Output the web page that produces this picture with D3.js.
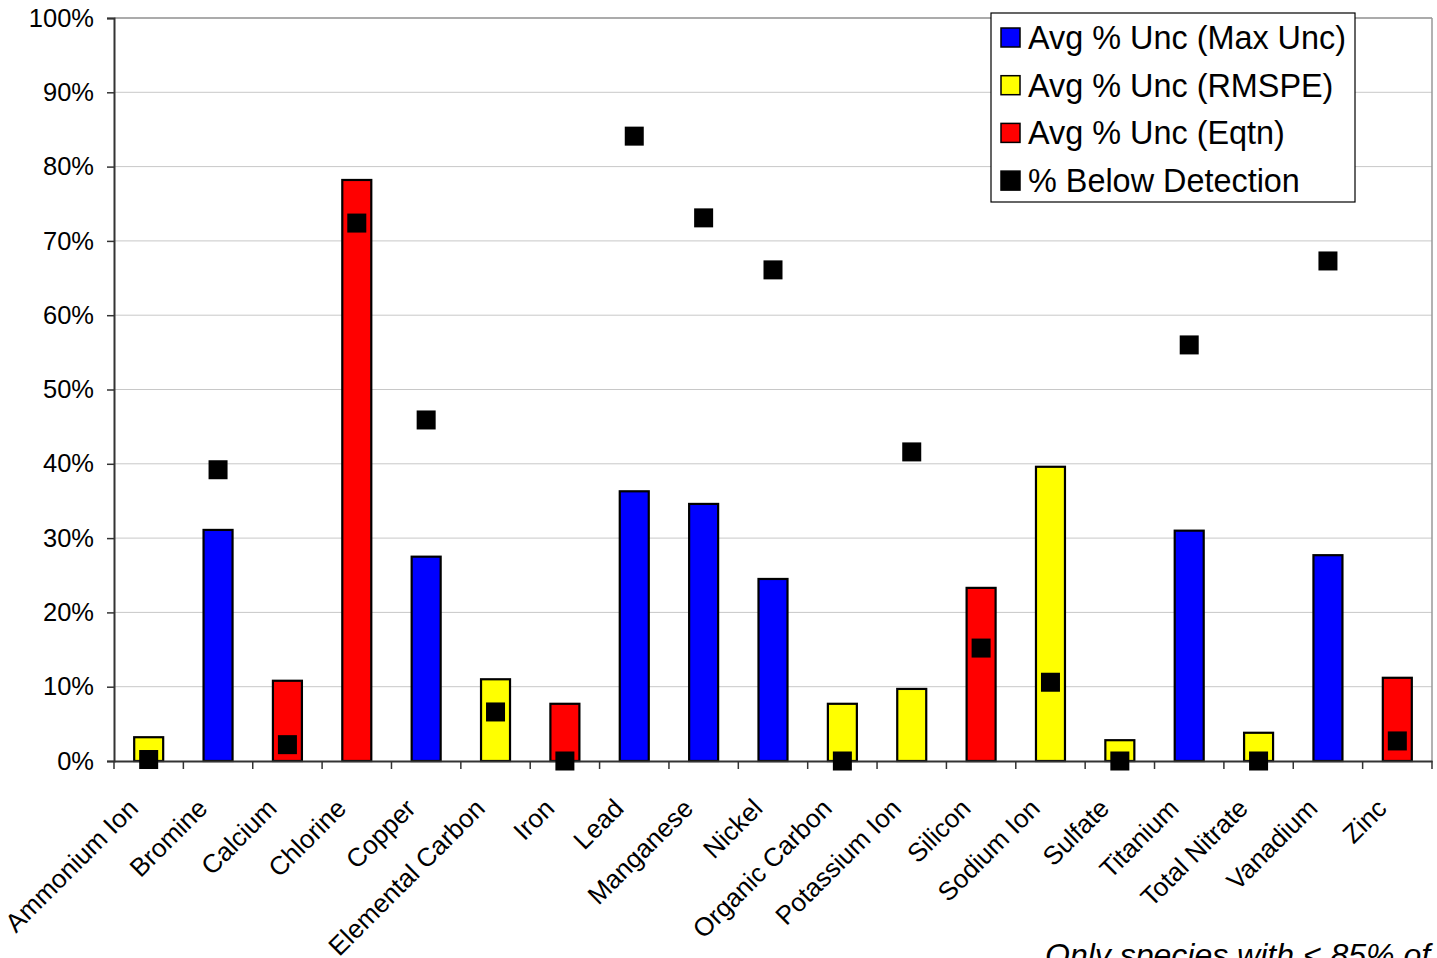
<!DOCTYPE html>
<html><head><meta charset="utf-8">
<script src="https://cdn.jsdelivr.net/npm/d3@7"></script>
<style>body{margin:0;background:#fff}svg{display:block}text{font-family:"Liberation Sans",Arial,sans-serif}</style>
</head><body><svg id="c" width="1437" height="958"></svg>
<script>
const categories = ["Ammonium Ion","Bromine","Calcium","Chlorine","Copper","Elemental Carbon","Iron","Lead","Manganese","Nickel","Organic Carbon","Potassium Ion","Silicon","Sodium Ion","Sulfate","Titanium","Total Nitrate","Vanadium","Zinc"];
const maxUnc = [null,31.1,null,null,27.5,null,null,36.3,34.6,24.5,null,null,null,null,null,31.0,null,27.7,null];
const rmspe  = [3.2,null,null,null,null,11.0,null,null,null,null,7.7,9.7,null,39.6,2.8,null,3.8,null,null];
const eqtn   = [null,null,10.8,78.2,null,null,7.7,null,null,null,null,null,23.3,null,null,null,null,null,11.2];
const belowDetection = [0.2,39.2,2.2,72.4,45.9,6.6,0,84.1,73.1,66.1,0,41.6,15.2,10.6,0,56.0,0,67.3,2.7];
const yTicks = [0,10,20,30,40,50,60,70,80,90,100];
const seriesNames = ["Avg % Unc (Max Unc)","Avg % Unc (RMSPE)","Avg % Unc (Eqtn)","% Below Detection"];
const seriesColors = ["#0000ff","#ffff00","#ff0000","#000000"];
const note = "Only species with < 85% of";

const svg = d3.select("#c");
const L=114, R=1432, T=18, B=761;
const x = d3.scaleBand().domain(categories).range([L,R]);
const y = d3.scaleLinear().domain([0,100]).range([B,T]);

// gridlines
svg.append("g").selectAll("line").data(yTicks.filter(d=>d>0)).join("line")
  .attr("x1",L).attr("x2",R).attr("y1",d=>y(d)).attr("y2",d=>y(d))
  .attr("stroke","#c8c8c8").attr("stroke-width",1);
// plot border
svg.append("line").attr("x1",R).attr("x2",R).attr("y1",T).attr("y2",B).attr("stroke","#999").attr("stroke-width",1.5);
svg.append("line").attr("x1",L).attr("x2",R).attr("y1",T).attr("y2",T).attr("stroke","#999").attr("stroke-width",1.5);

// bars
const bw = 29;
const series = [maxUnc,rmspe,eqtn];
series.forEach((arr,si)=>{
  svg.append("g").selectAll("rect")
    .data(categories.map((c,i)=>({c,v:arr[i]})).filter(d=>d.v!=null))
    .join("rect")
    .attr("x",d=>x(d.c)+x.bandwidth()/2-bw/2)
    .attr("y",d=>y(d.v)).attr("width",bw).attr("height",d=>B-y(d.v))
    .attr("fill",seriesColors[si]).attr("stroke","#000").attr("stroke-width",2.2);
});

// y axis
const ya = svg.append("g").attr("transform",`translate(${L},0)`)
  .call(d3.axisLeft(y).tickValues(yTicks).tickFormat(d=>d+"%").tickSize(7).tickPadding(13));
ya.select(".domain").attr("stroke","#333").attr("stroke-width",2);
ya.selectAll(".tick line").attr("stroke","#333").attr("stroke-width",1.5);
ya.selectAll("text").attr("font-size",25.5).attr("fill","#000").attr("font-family","Liberation Sans, Arial, sans-serif");

// x axis
const xa = svg.append("g").attr("transform",`translate(0,${B})`)
  .call(d3.axisBottom(x).tickSize(0).tickFormat(""));
xa.select(".domain").attr("stroke","#333").attr("stroke-width",2);
const bounds = categories.map(c=>x(c)).concat([R]);
svg.append("g").selectAll("line").data(bounds).join("line")
  .attr("x1",d=>d).attr("x2",d=>d).attr("y1",B).attr("y2",B+8)
  .attr("stroke","#333").attr("stroke-width",1.5);
svg.append("g").selectAll("text").data(categories).join("text")
  .attr("transform",d=>`translate(${x(d)+x.bandwidth()/2-9},${B+49}) rotate(-45)`)
  .attr("text-anchor","end").attr("font-size",26).attr("fill","#000").text(d=>d);

// markers
const ms = 19;
svg.append("g").selectAll("rect").data(categories.map((c,i)=>({c,v:belowDetection[i]}))).join("rect")
  .attr("x",d=>x(d.c)+x.bandwidth()/2-ms/2).attr("y",d=>y(d.v)-ms/2)
  .attr("width",ms).attr("height",ms).attr("fill","#000");

// legend
const lg = svg.append("g");
lg.append("rect").attr("x",991).attr("y",13).attr("width",364).attr("height",189)
  .attr("fill","#fff").attr("stroke","#000").attr("stroke-width",1.2);
seriesNames.forEach((n,i)=>{
  const cy = 38 + i*47.7;
  lg.append("rect").attr("x",1001).attr("y",cy-10).attr("width",19).attr("height",19)
    .attr("fill",seriesColors[i]).attr("stroke","#000").attr("stroke-width",1.5);
  lg.append("text").attr("x",1028).attr("y",cy+11).attr("font-size",32.4).attr("fill","#000").text(n);
});

svg.append("text").attr("x",1045).attr("y",966).attr("font-size",32).attr("font-style","italic").attr("fill","#000").text(note);
</script></body></html>
